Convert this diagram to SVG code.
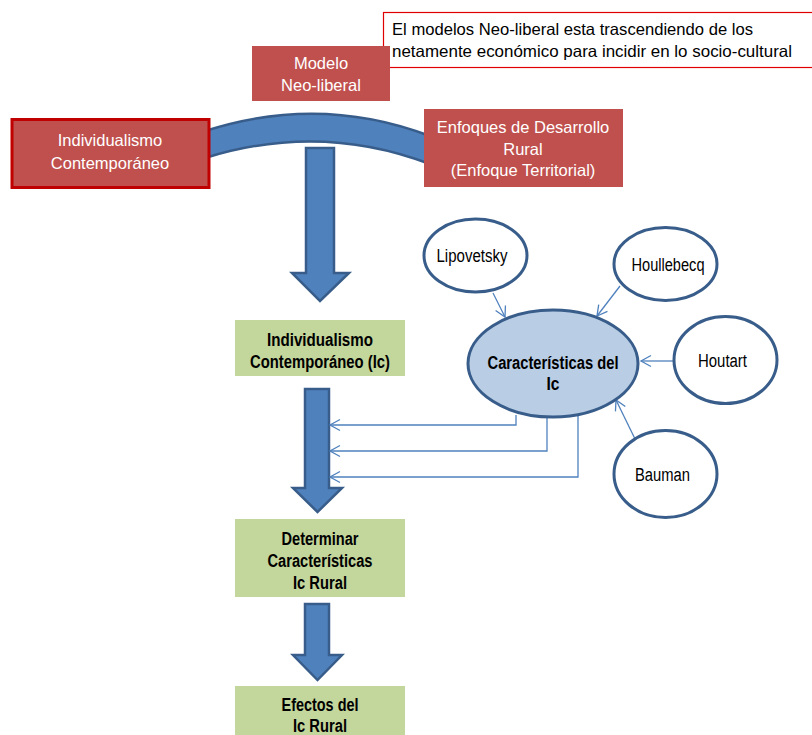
<svg xmlns="http://www.w3.org/2000/svg" width="812" height="735" viewBox="0 0 812 735">
  <style>
    .red { fill: #C0504D; }
    .redtxt { font-family: "Liberation Sans", Arial, sans-serif; font-size: 16.5px; fill: #FFFFFF; text-anchor: middle; }
    .green { fill: #C3D69B; }
    .gtxt { font-family: "Liberation Sans", Arial, sans-serif; font-weight: bold; font-size: 18px; fill: #000; text-anchor: middle; }
    .author { fill: #FFFFFF; stroke: #385D8A; stroke-width: 3; }
    .atxt { font-family: "Liberation Sans", Arial, sans-serif; font-size: 18px; fill: #000; text-anchor: middle; }
    .bigarrow { fill: #4F81BD; stroke: #385D8A; stroke-width: 2.5; stroke-linejoin: miter; }
    .link { fill: none; stroke: #4F81BD; stroke-width: 1.3; }
    .note { font-family: "Liberation Sans", Arial, sans-serif; font-size: 16.5px; fill: #000; }
  </style>
  <defs>
    <marker id="open" markerUnits="userSpaceOnUse" markerWidth="14" markerHeight="14" viewBox="-12 -7 14 14" refX="0" refY="0" orient="auto">
      <path d="M-10,-5.5 L0,0 L-10,5.5" fill="none" stroke="#4F81BD" stroke-width="1.3"/>
    </marker>
  </defs>

  <!-- note box -->
  <g id="note">
    <rect x="383.5" y="12.5" width="440" height="55" fill="#FFFFFF" stroke="#E00000" stroke-width="1.2"/>
    <text class="note" x="392" y="35" textLength="361" lengthAdjust="spacingAndGlyphs">El modelos Neo-liberal esta trascendiendo de los</text>
    <text class="note" x="392" y="57" textLength="400" lengthAdjust="spacingAndGlyphs">netamente económico para incidir en lo socio-cultural</text>
  </g>

  <!-- model box -->
  <g id="modelo">
    <rect class="red" x="252" y="46" width="138" height="55"/>
    <text class="redtxt" x="321" y="69">Modelo</text>
    <text class="redtxt" x="321" y="91">Neo-liberal</text>
  </g>

  <!-- connectors -->
  <g id="connectors">
    <!-- curved band joining the two side boxes -->
    <path class="bigarrow" d="M205,131 Q320,94 430,136 L430,164 Q320,122 205,158 Z"/>
    <!-- block arrows down the flow -->
    <path class="bigarrow" d="M306,148 L334,148 L334,273 L349,273 L320,301 L292,273 L306,273 Z"/>
    <path class="bigarrow" d="M305,389 L329,389 L329,488 L342,488 L317.5,512 L293,488 L305,488 Z"/>
    <path class="bigarrow" d="M305,604 L329,604 L329,655 L342,655 L317.5,680 L293,655 L305,655 Z"/>
    <!-- authors into the characteristics ellipse -->
    <path class="link" d="M493,293 L505,317" marker-end="url(#open)"/>
    <path class="link" d="M620,286 L597,316" marker-end="url(#open)"/>
    <path class="link" d="M673,361 L641,361" marker-end="url(#open)"/>
    <path class="link" d="M637,443 L616,400" marker-end="url(#open)"/>
    <!-- characteristics back to the flow -->
    <path class="link" d="M516,415 L516,425 L330,425" marker-end="url(#open)"/>
    <path class="link" d="M547,418 L547,451 L330,451" marker-end="url(#open)"/>
    <path class="link" d="M578,413 L578,477 L330,477" marker-end="url(#open)"/>
  </g>

  <g id="individualismo-top">
    <rect x="12" y="119.5" width="197" height="68" fill="#C0504D" stroke="#C00000" stroke-width="3"/>
    <text class="redtxt" x="110" y="146">Individualismo</text>
    <text class="redtxt" x="110" y="169">Contemporáneo</text>
  </g>

  <g id="enfoques">
    <rect class="red" x="424" y="109" width="199" height="78"/>
    <text class="redtxt" x="523" y="133">Enfoques de Desarrollo</text>
    <text class="redtxt" x="523" y="155">Rural</text>
    <text class="redtxt" x="523" y="176">(Enfoque Territorial)</text>
  </g>

  <g id="ic">
    <rect class="green" x="235" y="320" width="170" height="56"/>
    <text class="gtxt" x="320" y="346" textLength="106" lengthAdjust="spacingAndGlyphs">Individualismo</text>
    <text class="gtxt" x="320" y="368" textLength="140" lengthAdjust="spacingAndGlyphs">Contemporáneo (Ic)</text>
  </g>

  <g id="determinar">
    <rect class="green" x="235" y="519" width="170" height="78"/>
    <text class="gtxt" x="320" y="545" textLength="77" lengthAdjust="spacingAndGlyphs">Determinar</text>
    <text class="gtxt" x="320" y="567" textLength="105" lengthAdjust="spacingAndGlyphs">Características</text>
    <text class="gtxt" x="320" y="589" textLength="54" lengthAdjust="spacingAndGlyphs">Ic Rural</text>
  </g>

  <g id="efectos">
    <rect class="green" x="235" y="686" width="170" height="52"/>
    <text class="gtxt" x="320" y="711" textLength="77" lengthAdjust="spacingAndGlyphs">Efectos del</text>
    <text class="gtxt" x="320" y="732" textLength="54" lengthAdjust="spacingAndGlyphs">Ic Rural</text>
  </g>

  <g id="caracteristicas">
    <ellipse cx="553" cy="363.5" rx="85" ry="53.5" fill="#B9CDE5" stroke="#385D8A" stroke-width="3"/>
    <text class="gtxt" x="553" y="369" font-size="19" textLength="131" lengthAdjust="spacingAndGlyphs">Características del</text>
    <text class="gtxt" x="553" y="390" font-size="19" textLength="13" lengthAdjust="spacingAndGlyphs">Ic</text>
  </g>

  <g id="lipovetsky">
    <ellipse class="author" cx="475.5" cy="255.5" rx="51.5" ry="36.5"/>
    <text class="atxt" x="472" y="262" textLength="71" lengthAdjust="spacingAndGlyphs">Lipovetsky</text>
  </g>
  <g id="houllebecq">
    <ellipse class="author" cx="665.5" cy="264" rx="51.5" ry="36.5"/>
    <text class="atxt" x="668" y="271" textLength="73" lengthAdjust="spacingAndGlyphs">Houllebecq</text>
  </g>
  <g id="houtart">
    <ellipse class="author" cx="725.5" cy="360" rx="51.5" ry="43.5"/>
    <text class="atxt" x="722.5" y="367" textLength="49" lengthAdjust="spacingAndGlyphs">Houtart</text>
  </g>
  <g id="bauman">
    <ellipse class="author" cx="665.5" cy="474" rx="51.5" ry="43.5"/>
    <text class="atxt" x="662.5" y="481" textLength="55" lengthAdjust="spacingAndGlyphs">Bauman</text>
  </g>
</svg>
